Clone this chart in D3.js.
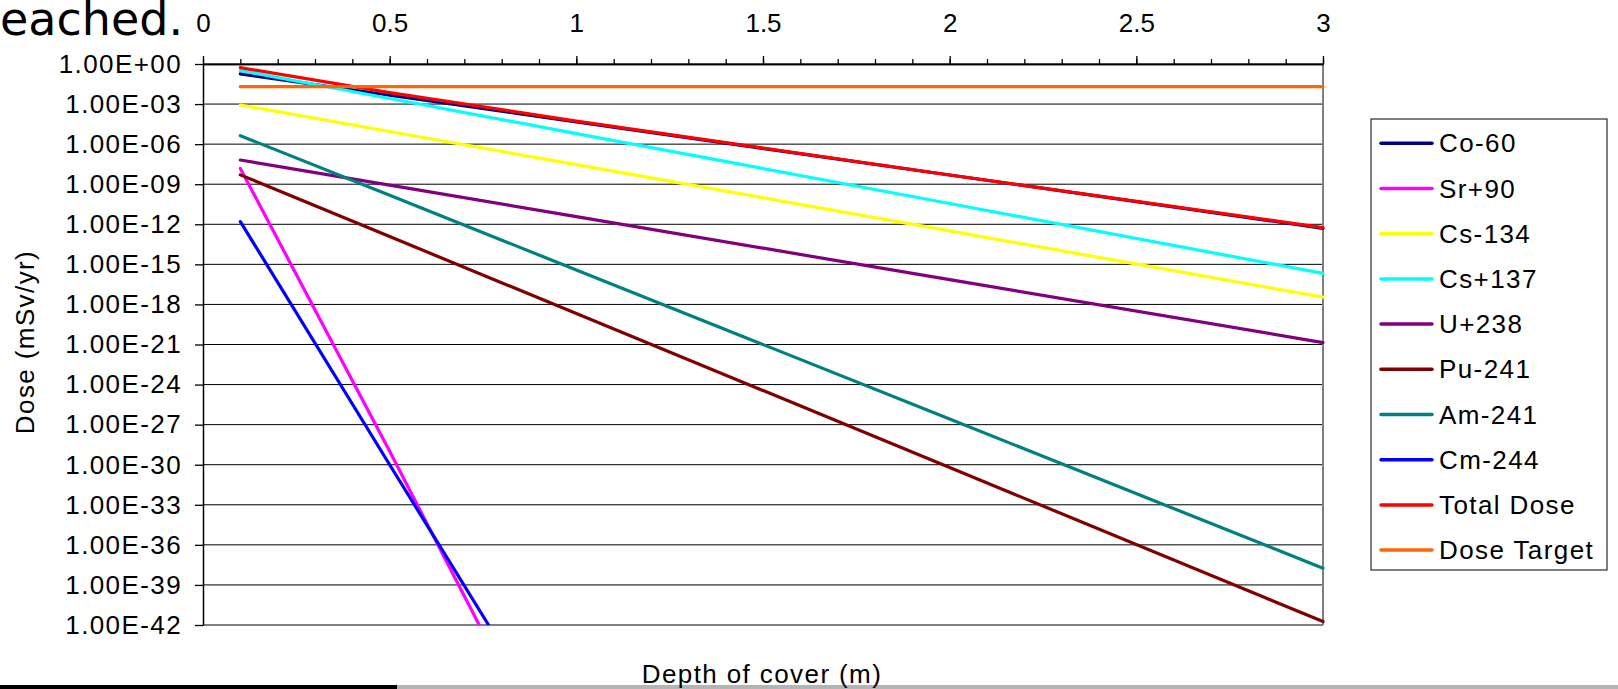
<!DOCTYPE html>
<html>
<head>
<meta charset="utf-8">
<script src="https://cdn.jsdelivr.net/npm/d3@7"></script>
<style>
  body { margin: 0; background: #fff; }
  svg text { font-family: "Liberation Sans", Arial, sans-serif; fill: #000; }
</style>
</head>
<body>
<div id="chart"></div>
<script>
var svgWidth = 1618;
var svgHeight = 689;

var margin = { top: 64, right: 295, bottom: 64, left: 203 };
var width = 1323 - margin.left;
var height = 625 - margin.top;

// depth of cover (m) and dose (mSv/yr)
var depths = [0.1, 0.5, 1, 2, 3];
var co60 = [0.18, 4.6e-3, 4.7e-5, 4.9e-9, 5.0e-13];
var cs134 = [8.5e-4, 8.9e-6, 2.9e-8, 3.2e-13, 3.5e-18];
var cs137 = [0.32, 2.6e-3, 6.2e-6, 3.6e-11, 2.1e-16];
var u238 = [6.5e-8, 8.5e-10, 3.7e-12, 7.2e-17, 1.4e-21];
var pu241 = [5.0e-9, 1.2e-13, 2.1e-19, 6.2e-31, 1.8e-42];
var am241 = [4.3e-6, 1.5e-10, 3.8e-16, 2.6e-27, 1.8e-38];
var totalDose = [0.53, 7.2e-3, 5.3e-5, 4.9e-9, 5.6e-13];
var doseTarget = [0.02, 0.02, 0.02, 0.02, 0.02];

// these two drop off the bottom of the axis early
var sr90Depths = [0.1, 0.5, 0.74];
var sr90 = [1.5e-8, 1.0e-29, 1.0e-42];
var cm244Depths = [0.1, 0.5, 0.765];
var cm244 = [1.6e-12, 1.0e-30, 1.0e-42];

var seriesNames = ["Co-60", "Sr+90", "Cs-134", "Cs+137", "U+238", "Pu-241", "Am-241", "Cm-244", "Total Dose", "Dose Target"];
var seriesColors = ["#000080", "#FF00FF", "#FFFF00", "#00FFFF", "#800080", "#800000", "#008080", "#0000FF", "#FF0000", "#FF6600"];
var seriesX = [depths, sr90Depths, depths, depths, depths, depths, depths, cm244Depths, depths, depths];
var seriesY = [co60, sr90, cs134, cs137, u238, pu241, am241, cm244, totalDose, doseTarget];

var yTickValues = d3.range(0, 15).map(function(k) { return Math.pow(10, -3 * k); });

function sciLabel(v) {
  var e = Math.round(Math.log10(v));
  var s = e < 0 ? "-" : "+";
  var a = Math.abs(e);
  return "1.00E" + s + (a < 10 ? "0" + a : a);
}

var svg = d3.select("#chart")
  .append("svg")
  .attr("width", svgWidth)
  .attr("height", svgHeight);

// leftover slide text and bars
svg.append("text")
  .attr("x", 0)
  .attr("y", 35)
  .style("font-family", "'DejaVu Sans', sans-serif")
  .style("font-size", "46px")
  .text("eached.");

svg.append("rect").attr("x", 0).attr("y", 685).attr("width", 397).attr("height", 4).attr("fill", "#000");
svg.append("rect").attr("x", 397).attr("y", 685).attr("width", svgWidth - 397).attr("height", 4).attr("fill", "#b4b4b4");

var chartGroup = svg.append("g")
  .attr("transform", `translate(${margin.left}, ${margin.top})`);

var xLinearScale = d3.scaleLinear().domain([0, 3]).range([0, width]);
var yLogScale = d3.scaleLog().domain([1e-42, 1]).range([height, 0]);

// gridlines
chartGroup.append("g")
  .selectAll("line")
  .data(yTickValues)
  .enter()
  .append("line")
  .attr("x1", 0)
  .attr("x2", width)
  .attr("y1", d => yLogScale(d))
  .attr("y2", d => yLogScale(d))
  .attr("stroke", "#000")
  .attr("stroke-width", 1);

// plot border right / bottom
chartGroup.append("line").attr("x1", width).attr("x2", width).attr("y1", 0).attr("y2", height)
  .attr("stroke", "#808080").attr("stroke-width", 2);
chartGroup.append("line").attr("x1", 0).attr("x2", width).attr("y1", height).attr("y2", height)
  .attr("stroke", "#808080").attr("stroke-width", 2);

// x axis on top: minor ticks then major ticks with labels
var minorAxis = d3.axisTop(xLinearScale)
  .tickValues(d3.range(0, 31).map(d => d / 10))
  .tickSize(5)
  .tickSizeOuter(0)
  .tickFormat("");
var topMinor = chartGroup.append("g").call(minorAxis);

var majorAxis = d3.axisTop(xLinearScale)
  .tickValues([0, 0.5, 1, 1.5, 2, 2.5, 3])
  .tickSize(8)
  .tickPadding(24)
  .tickSizeOuter(0)
  .tickFormat(d3.format("~g"));
var topMajor = chartGroup.append("g").call(majorAxis);

[topMinor, topMajor].forEach(function(g) {
  g.select(".domain").attr("stroke", "#000").attr("stroke-width", 1.5);
  g.selectAll(".tick line").attr("stroke", "#000").attr("stroke-width", 1.3);
});
topMajor.selectAll(".tick text")
  .style("font-size", "26px")
  .style("font-family", "'Liberation Sans', Arial, sans-serif")
  .attr("dy", "0");

// y axis
var leftAxis = d3.axisLeft(yLogScale)
  .tickValues(yTickValues)
  .tickSize(8)
  .tickPadding(13)
  .tickSizeOuter(0)
  .tickFormat(sciLabel);
var yAxis = chartGroup.append("g").call(leftAxis);
yAxis.select(".domain").attr("stroke", "#000").attr("stroke-width", 1.5);
yAxis.selectAll(".tick line").attr("stroke", "#000").attr("stroke-width", 1.3);
yAxis.selectAll(".tick text")
  .style("font-size", "26px")
  .style("letter-spacing", "1.4px")
  .style("font-family", "'Liberation Sans', Arial, sans-serif");

// clip for the lines
chartGroup.append("clipPath").attr("id", "plotClip")
  .append("rect").attr("x", -4).attr("y", -4).attr("width", width + 8).attr("height", height + 4);

var line = d3.line()
  .x(d => xLinearScale(d[0]))
  .y(d => yLogScale(d[1]));

var linesGroup = chartGroup.append("g").attr("clip-path", "url(#plotClip)");
seriesNames.forEach(function(name, i) {
  var pts = seriesX[i].map((x, j) => [x, seriesY[i][j]]);
  linesGroup.append("path")
    .datum(pts)
    .attr("d", line)
    .attr("fill", "none")
    .attr("stroke", seriesColors[i])
    .attr("stroke-width", 3.2)
    .attr("stroke-linecap", "round")
    .attr("stroke-linejoin", "round");
});

// axis titles
svg.append("text")
  .attr("x", 762)
  .attr("y", 683)
  .attr("text-anchor", "middle")
  .style("font-size", "26px")
  .style("letter-spacing", "1.4px")
  .text("Depth of cover (m)");

svg.append("text")
  .attr("transform", "translate(34, 342) rotate(-90)")
  .attr("text-anchor", "middle")
  .style("font-size", "26px")
  .style("letter-spacing", "1.4px")
  .text("Dose (mSv/yr)");

// legend
var legend = svg.append("g").attr("transform", "translate(1371, 119)");
legend.append("rect")
  .attr("width", 236)
  .attr("height", 451)
  .attr("fill", "#fff")
  .attr("stroke", "#000")
  .attr("stroke-width", 1);

var items = legend.selectAll("g.item")
  .data(seriesNames)
  .enter()
  .append("g")
  .attr("transform", (d, i) => `translate(0, ${24.3 + i * 45.2})`);
items.append("line")
  .attr("x1", 10).attr("x2", 61)
  .attr("stroke", (d, i) => seriesColors[i])
  .attr("stroke-width", 3.5)
  .attr("stroke-linecap", "round");
items.append("text")
  .attr("x", 68)
  .attr("dy", "0.35em")
  .style("font-size", "26px")
  .style("letter-spacing", "1.4px")
  .text(d => d);
</script>
</body>
</html>
